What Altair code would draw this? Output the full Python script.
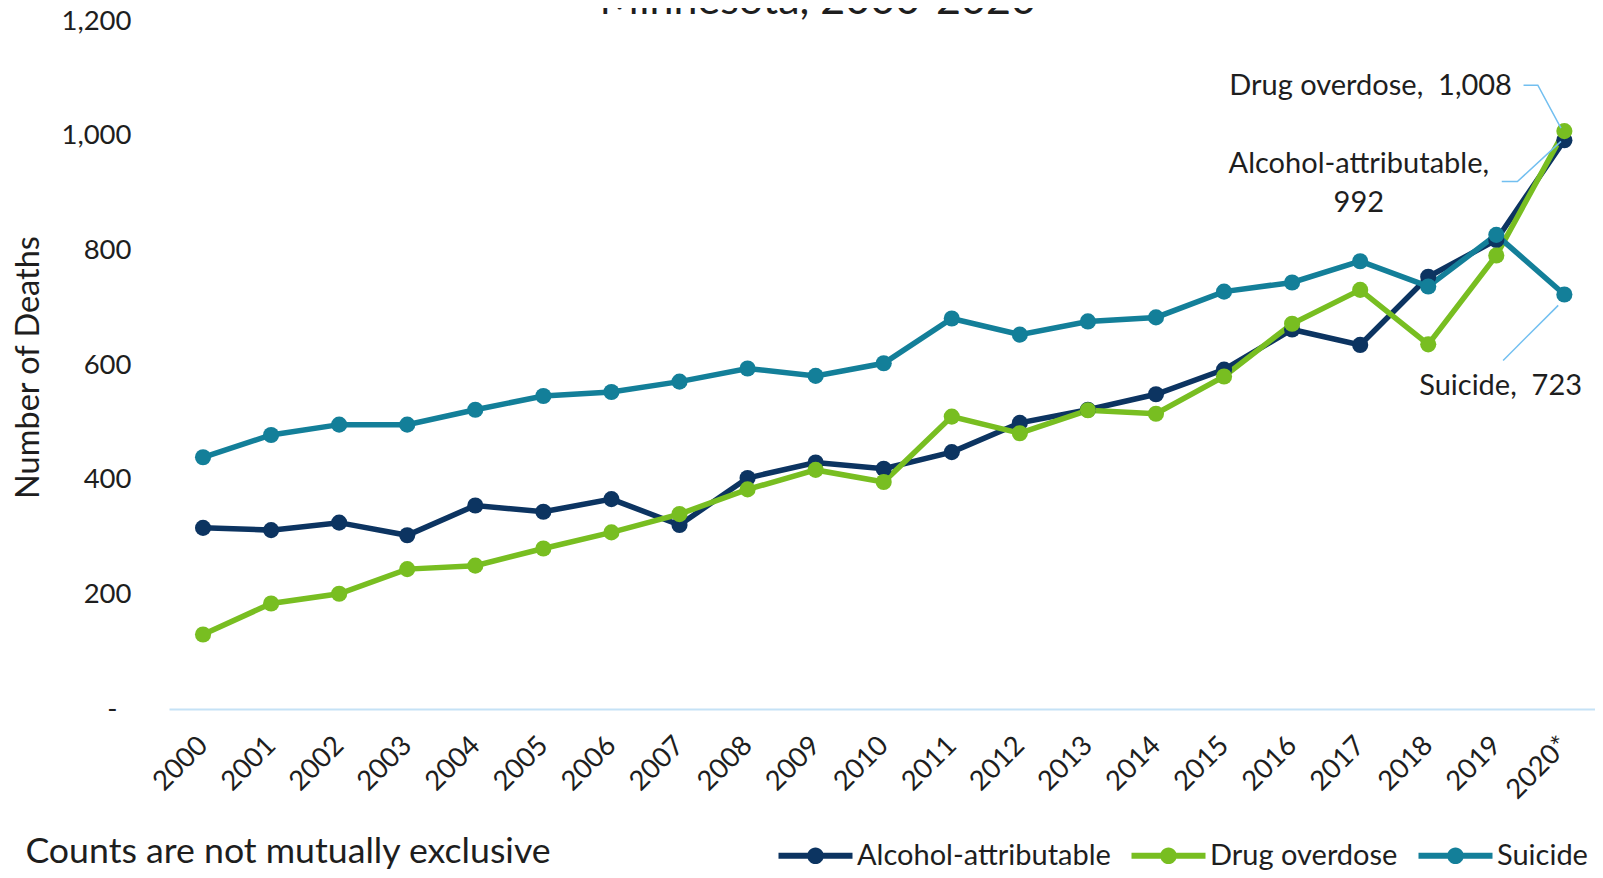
import altair as alt
import pandas as pd

years = list(range(2000, 2021))
year_labels = [str(y) for y in years[:-1]] + ["2020*"]
alcohol = [316, 312, 325, 303, 355, 344, 366, 321, 403, 430, 419, 448, 499, 522, 549, 592, 662, 635, 754, 818, 992]
drug = [130, 184, 201, 244, 250, 280, 308, 340, 383, 417, 396, 510, 481, 521, 515, 580, 672, 731, 636, 791, 1008]
suicide = [439, 478, 496, 496, 522, 546, 553, 571, 594, 581, 603, 681, 653, 676, 683, 728, 744, 781, 737, 827, 723]
series_names = ["Alcohol-attributable", "Drug overdose", "Suicide"]
series_colors = ["#0c3461", "#78be21", "#137f99"]
y_ticks = [0, 200, 400, 600, 800, 1000, 1200]

ann_text = ["Drug overdose,\u00a0 1,008", "Alcohol-attributable,", "992", "Suicide,\u00a0 723"]
ann_x = [2019.23, 2016.98, 2016.98, 2020.26]
ann_y = [1086, 950, 883, 563]
ann_align = ["right", "center", "center", "right"]

lead_group = ["d", "d", "d", "a", "a", "a", "s", "s"]
lead_order = [0, 1, 2, 0, 1, 2, 0, 1]
lead_x = [2019.40, 2019.61, 2019.95, 2019.08, 2019.31, 2019.95, 2019.10, 2019.91]
lead_y = [1088, 1088, 1013, 920, 920, 990, 608, 704]

title_line = "Minnesota, 2000-2020"
footnote = "Counts are not mutually exclusive"

rows = []
for name, vals in zip(series_names, [alcohol, drug, suicide]):
    for yr, v in zip(years, vals):
        rows.append({"year": yr, "deaths": v, "series": name})
df = pd.DataFrame(rows)

ann_df = pd.DataFrame({"text": ann_text, "x": ann_x, "y": ann_y, "align": ann_align})
lead_df = pd.DataFrame({"g": lead_group, "o": lead_order, "x": lead_x, "y": lead_y})
title_df = pd.DataFrame({"text": [title_line], "x": [2009.03], "y": [1212]})
foot_df = pd.DataFrame({"text": [footnote], "x": [1997.39], "y": [-250]})

FONT = "Lato"
TXT = "#1e1e1e"

label_expr = "[" + ",".join("'" + s + "'" for s in year_labels) + "][datum.value - 2000]"

x_enc = alt.X(
    "year:Q",
    scale=alt.Scale(domain=[1999.5, 2020.45], nice=False, zero=False),
    axis=alt.Axis(
        values=years, labelExpr=label_expr, labelAngle=315, labelFontSize=27.5,
        labelColor=TXT, labelPadding=32, labelBaseline="middle", labelAlign="right",
        labelOverlap=False, ticks=False, grid=False, domain=True,
        domainColor="#c5e2f6", domainWidth=2, title=None, labelFont=FONT,
    ),
)
y_enc = alt.Y(
    "deaths:Q",
    scale=alt.Scale(domain=[0, 1200], nice=False),
    axis=alt.Axis(
        values=y_ticks,
        labelExpr="datum.value == 0 ? '-' : format(datum.value, ',')",
        labelFontSize=27.5, labelColor=TXT,
        labelPadding={"condition": {"test": "datum.value == 0", "value": 52}, "value": 38},
        ticks=False, grid=False,
        domain=False, title="Number of Deaths", titleFontSize=32.5, titleFontWeight="normal",
        titleColor=TXT, titleX=-141, titleY=346, titleAngle=270, titleAlign="center",
        titleBaseline="middle", labelFont=FONT, titleFont=FONT,
    ),
)
color_scale = alt.Scale(domain=series_names, range=series_colors)
# same mapping, listed in another order so the line colours keep their own (hidden) legend
stroke_scale = alt.Scale(domain=series_names[::-1], range=series_colors[::-1])

lines = alt.Chart(df).mark_line(strokeWidth=5.5).encode(
    x=x_enc, y=y_enc,
    stroke=alt.Stroke("series:N", scale=stroke_scale, legend=None),
)

legend_path = ("M-3.7,-0.3H3.7V0.3H-3.7Z"
               "M0.83,0A0.83,0.83 0 1,1 -0.83,0A0.83,0.83 0 1,1 0.83,0Z")
points = alt.Chart(df).mark_point(filled=True, size=260, opacity=1).encode(
    x="year:Q", y="deaths:Q",
    color=alt.Color(
        "series:N", scale=color_scale,
        legend=alt.Legend(
            title=None, orient="none", legendX=632, legendY=820, direction="horizontal",
            symbolType=legend_path, symbolSize=400, symbolStrokeWidth=0,
            labelFontSize=29, labelFont=FONT, labelColor=TXT, labelOffset=27,
            labelLimit=500, columnPadding=20, symbolOpacity=1, padding=0,
        ),
    ),
)

leaders = alt.Chart(lead_df).mark_line(color="#72bff0", strokeWidth=1.5).encode(
    x="x:Q", y="y:Q", detail="g:N", order="o:Q"
)

ann_r = alt.Chart(ann_df).transform_filter("datum.align == 'right'").mark_text(
    fontSize=29, font=FONT, color=TXT, baseline="middle", align="right"
).encode(x="x:Q", y="y:Q", text="text:N")
ann_c = alt.Chart(ann_df).transform_filter("datum.align == 'center'").mark_text(
    fontSize=29, font=FONT, color=TXT, baseline="middle", align="center"
).encode(x="x:Q", y="y:Q", text="text:N")

top_title = alt.Chart(title_df).mark_text(
    fontSize=43, font=FONT, color=TXT, baseline="alphabetic", align="center"
).encode(x="x:Q", y="y:Q", text="text:N")

foot = alt.Chart(foot_df).mark_text(
    fontSize=35.7, font=FONT, color=TXT, baseline="middle", align="left"
).encode(x="x:Q", y="y:Q", text="text:N")

chart = alt.layer(lines, points, leaders, ann_r, ann_c, top_title, foot).properties(
    width=1426, height=688,
    autosize=alt.AutoSizeParams(type="none"),
    padding={"left": 161, "top": 13, "right": 0, "bottom": 161},
).configure(font=FONT, view=alt.ViewConfig(strokeWidth=0))

chart.save("out.html", embed_options={"renderer": "svg", "actions": False})
